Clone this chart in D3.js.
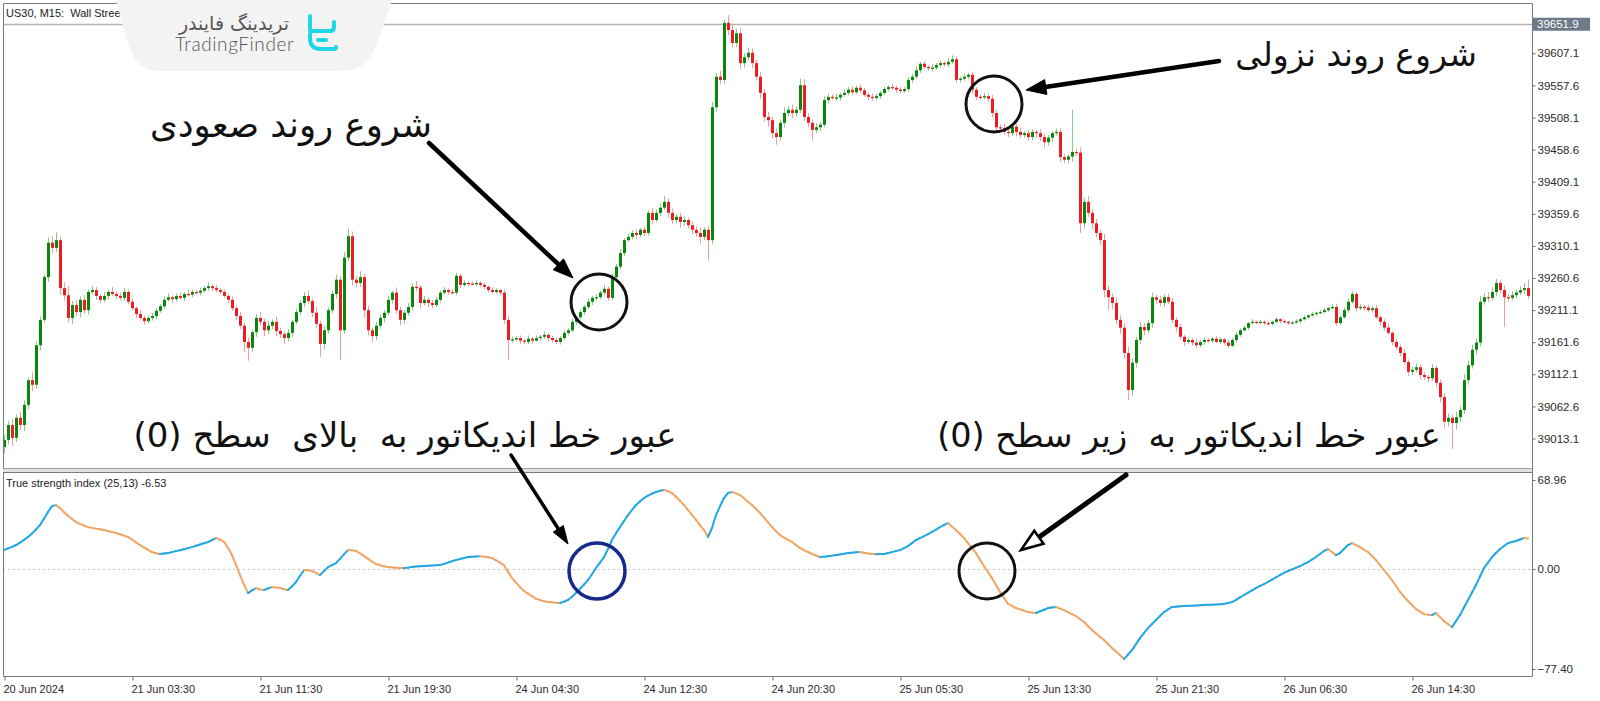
<!DOCTYPE html>
<html><head><meta charset="utf-8">
<script src="https://cdn.jsdelivr.net/npm/d3@7"></script>
<style>body{margin:0;background:#fff;overflow:hidden}svg{display:block}text{white-space:pre}</style>
</head><body>
<svg id="c" width="1600" height="701"></svg>
<script>
// ---------- DATA ----------
const firstOpen = 39000;
const closes = [
39011,39034,39014,39045,39034,39065,39103,39096,39157,39196,
39262,39315,39307,39319,39245,39234,39199,39219,39208,39227,
39211,39239,39242,39233,39227,39233,39239,39236,39233,39230,
39239,39224,39214,39205,39199,39194,39199,39202,39210,39217,
39227,39231,39228,39233,39230,39236,39235,39239,39238,39241,
39245,39248,39245,39242,39239,39233,39227,39214,39202,39187,
39162,39153,39177,39199,39193,39180,39187,39193,39179,39174,
39168,39176,39193,39208,39222,39233,39225,39207,39190,39159,
39180,39211,39236,39258,39180,39292,39325,39258,39253,39262,
39211,39180,39171,39187,39199,39207,39227,39238,39211,39196,
39207,39216,39247,39246,39222,39227,39222,39219,39227,39238,
39242,39239,39238,39264,39250,39253,39252,39251,39253,39250,
39247,39242,39239,39242,39238,39196,39165,39166,39168,39164,
39162,39167,39164,39168,39170,39173,39168,39165,39162,39168,
39176,39180,39193,39200,39208,39216,39224,39230,39231,39238,
39244,39230,39262,39278,39299,39319,39324,39330,39327,39335,
39330,39361,39350,39361,39369,39378,39361,39350,39355,39347,
39350,39342,39335,39330,39324,39335,39319,39524,39571,39566,
39654,39643,39623,39638,39592,39601,39608,39592,39571,39546,
39509,39504,39484,39478,39500,39515,39520,39515,39520,39558,
39509,39500,39489,39493,39497,39535,39540,39538,39539,39543,
39546,39551,39547,39554,39550,39543,39540,39538,39541,39546,
39552,39555,39554,39551,39549,39552,39566,39571,39581,39591,
39586,39584,39585,39589,39592,39590,39594,39598,39566,39568,
39571,39574,39551,39540,39539,39541,39537,39515,39493,39492,
39486,39484,39494,39486,39481,39484,39478,39486,39484,39478,
39470,39477,39484,39486,39447,39443,39448,39455,39454,39345,
39378,39361,39345,39330,39319,39242,39231,39222,39196,39184,
39145,39088,39130,39165,39185,39180,39191,39231,39227,39222,
39231,39224,39196,39185,39170,39162,39165,39161,39157,39162,
39165,39164,39167,39162,39166,39161,39156,39165,39173,39180,
39184,39191,39193,39192,39193,39191,39190,39193,39197,39194,
39193,39191,39192,39194,39197,39200,39203,39205,39207,39208,
39211,39214,39216,39191,39200,39211,39224,39236,39214,39216,
39215,39211,39214,39200,39193,39184,39176,39162,39154,39145,
39131,39116,39119,39123,39111,39108,39106,39122,39099,39077,
39039,39045,39037,39046,39057,39103,39126,39150,39161,39224,
39231,39230,39239,39253,39242,39231,39230,39234,39238,39242,
39245,39233];
const upWick = [
8,6,10,5,9,7,4,12,6,5, 4,8,10,12,5,9,14,6,8,5, 7,4,6,5,3,6,4,8,3,5, 6,4,5,3,6,4,3,5,4,3,
5,6,3,4,5,3,7,4,3,5, 4,6,3,5,3,4,3,5,4,6, 5,7,4,6,9,5,7,4,8,5, 4,6,3,5,4,6,8,4,9,5,
6,4,5,8,6,8,12,7,6,9, 5,7,4,6,5,4,6,3,8,5, 4,6,5,9,4,6,3,5,4,3, 5,3,4,4,3,4,2,3,4,2,
3,2,4,3,2,5,6,4,3,4, 3,5,2,4,3,5,2,3,4,3, 4,3,5,2,4,3,5,3,4,3, 6,4,5,4,6,3,5,4,6,3,
5,4,8,5,6,9,5,7,4,6, 5,4,6,5,8,4,6,8,6,9, 5,12,10,7,9,6,8,6,5,7, 6,8,5,7,5,9,6,8,5,10,
9,6,5,7,4,6,5,4,6,3, 5,4,6,3,5,4,3,5,4,3, 4,3,5,3,4,3,5,4,6,3, 4,3,5,3,4,3,5,6,4,3,
4,3,5,4,3,5,4,6,5,4, 6,3,5,4,6,3,5,4,3,6, 5,4,3,5,6,4,3,65,5,8, 6,9,5,7,6,10,8,6,9,7,
6,9,7,5,8,6,5,7,4,6, 4,5,6,4,5,3,4,3,5,3, 4,3,2,4,3,2,4,3,4,3, 3,2,4,2,3,2,3,2,3,2,
3,2,2,3,2,3,2,3,2,3, 3,2,4,5,3,4,5,4,3,4, 3,4,3,5,3,4,6,3,5,4, 6,4,5,6,4,5,3,6,4,5,
6,7,5,8,6,9,7,8,6,9, 6,8,7,6,5,7,5,6,4,6, 8,13];
const dnWick = [
10,7,12,6,8,9,7,10,6,8, 5,7,9,6,10,8,7,9,6,8, 5,7,4,6,5,4,6,3,5,4, 5,4,3,6,4,5,3,4,5,3,
4,3,5,4,3,5,3,4,3,4, 3,4,5,3,4,3,5,4,6,5, 15,20,6,7,5,9,6,5,8,6, 9,5,6,4,5,6,4,7,6,20,
8,6,5,7,46,6,5,9,7,6, 12,8,9,6,5,7,4,6,5,8, 6,4,5,6,8,4,6,5,3,4, 3,4,3,4,5,3,4,2,3,4,
3,4,2,3,4,6,31,4,3,5, 4,3,5,2,4,3,5,4,3,4, 3,4,3,5,3,4,3,5,4,3, 4,5,3,6,4,5,3,4,6,3,
5,4,6,3,5,4,8,6,5,9, 6,5,7,6,10,5,31,6,8,7, 6,8,7,6,9,7,5,8,6,9, 7,10,8,12,6,7,5,8,6,5,
6,7,16,5,6,4,5,3,4,5, 3,4,5,3,4,3,5,4,3,4, 3,4,3,5,4,3,4,5,3,4, 3,4,5,3,4,3,4,3,5,4,
3,4,6,5,4,3,5,7,6,4, 5,6,4,7,5,4,6,5,7,6, 8,5,6,4,7,5,6,8,5,15, 8,6,9,7,8,12,20,9,7,10,
8,16,9,7,6,8,5,7,6,5, 6,4,5,7,4,6,3,5,4,3, 4,3,4,2,3,4,3,2,4,3, 2,3,2,3,2,3,2,3,2,3,
2,3,2,2,3,2,3,2,3,2, 2,3,2,4,3,2,4,3,5,3, 4,3,4,3,5,4,3,6,4,5, 4,6,5,4,7,5,6,4,7,8,
9,7,40,10,8,6,7,5,8,6, 5,7,4,6,5,46,6,4,5,4, 6,5];
const tsi = [
14.7,16.0,17.2,18.6,20.5,22.6,24.8,27.5,30.6,34.0,
39.0,44.2,48.8,49.5,47.2,44.0,41.3,38.8,36.4,35.0,
33.7,32.5,31.9,31.3,30.8,30.2,29.5,28.7,27.9,26.9,
25.9,24.8,22.9,20.7,18.6,16.7,14.9,13.2,12.3,11.6,
12.0,12.5,13.1,13.9,14.6,15.4,16.2,17.0,18.0,19.0,
20.0,20.9,22.5,24.0,22.8,21.0,16.5,10.8,3.2,-4.6,
-12.0,-18.6,-16.5,-14.7,-15.8,-16.3,-15.0,-14.0,-14.2,-14.7,
-15.6,-16.3,-13.4,-10.0,-5.2,-0.8,-1.0,-1.5,-3.0,-4.6,
-1.6,1.5,3.0,4.6,7.9,11.4,14.7,14.5,14.0,12.2,
10.0,7.9,5.8,3.9,2.9,2.1,1.5,1.2,1.0,0.9,
0.8,1.1,1.5,1.9,2.1,2.3,2.5,2.7,2.9,3.1,
4.0,5.0,6.0,7.0,7.8,8.6,9.3,9.5,9.8,10.0,
9.6,9.1,8.5,6.8,5.0,3.0,-2.0,-7.0,-10.5,-14.0,
-17.0,-19.0,-21.0,-23.0,-24.0,-24.9,-25.6,-25.8,-26.1,-26.3,
-25.2,-24.0,-21.5,-18.6,-15.3,-12.0,-8.5,-4.0,0.8,5.0,
9.3,15.5,22.5,27.8,32.5,37.2,41.8,45.8,49.6,52.4,
55.0,56.8,58.4,59.7,60.6,61.2,60.2,58.9,56.0,52.8,
49.6,45.7,41.9,38.0,34.0,30.2,24.8,31.8,41.8,48.6,
55.0,58.9,59.7,58.6,57.3,54.8,52.2,49.6,46.5,43.4,
39.8,36.1,32.5,29.3,26.3,24.4,22.6,21.0,18.6,16.3,
14.7,13.2,11.8,10.5,9.3,9.6,10.0,10.4,10.8,11.3,
11.8,12.4,12.7,13.0,13.2,12.6,12.1,11.6,11.5,11.6,
11.6,12.4,13.1,13.9,14.7,16.2,17.8,20.1,22.5,24.0,
25.5,27.0,28.8,30.6,32.5,34.1,35.6,33.0,30.2,27.1,
24.0,20.1,16.2,12.4,7.3,2.3,-2.3,-7.0,-12.4,-17.8,
-22.4,-27.0,-28.6,-30.2,-31.2,-32.3,-33.3,-33.7,-34.0,-32.7,
-31.5,-30.2,-29.8,-29.4,-30.6,-31.8,-33.4,-34.9,-36.4,-38.7,
-41.0,-44.1,-47.3,-49.9,-52.4,-55.0,-58.1,-61.2,-63.9,-66.6,
-69.7,-66.2,-62.8,-58.1,-53.5,-49.6,-45.7,-42.6,-39.5,-36.4,
-33.3,-31.3,-29.4,-29.2,-28.9,-28.7,-28.5,-28.4,-28.2,-28.0,
-27.9,-27.7,-27.6,-27.4,-27.2,-27.1,-26.3,-25.6,-23.8,-21.9,
-20.1,-18.3,-16.5,-14.7,-13.1,-11.6,-10.0,-8.2,-6.4,-4.6,
-3.0,-1.5,-0.2,1.0,2.3,3.9,5.4,7.4,9.3,11.7,
14.0,15.5,13.2,10.8,12.4,15.5,18.6,20.1,18.6,17.0,
15.1,13.2,10.1,7.0,3.1,-0.8,-4.6,-8.5,-13.1,-17.8,
-21.3,-24.8,-27.9,-31.0,-33.0,-34.9,-35.3,-35.6,-34.0,-37.2,
-40.3,-42.6,-45.0,-40.3,-35.6,-29.8,-24.0,-18.2,-12.4,-5.8,
0.8,5.0,9.3,12.4,15.5,17.8,20.1,20.9,21.7,22.9,
24.0,23.6];
const priceTicks = [39013.1,39062.6,39112.1,39161.6,39211.1,39260.6,39310.1,39359.6,39409.1,39458.6,39508.1,39557.6,39607.1];
const tsiTicks = [68.96,0.00,-77.40];
const timeTickBars = [0,32,64,96,128,160,192,224,256,288,320,352];
const timeLabels = ["20 Jun 2024","21 Jun 03:30","21 Jun 11:30","21 Jun 19:30","24 Jun 04:30","24 Jun 12:30","24 Jun 20:30","25 Jun 05:30","25 Jun 13:30","25 Jun 21:30","26 Jun 06:30","26 Jun 14:30"];
const linePrice = 39651.9;
const tsiLabel = "True strength index (25,13) -6.53";
const symbolLabel = "US30, M15:  Wall Street 30";

// ---------- LAYOUT ----------
const L=3, R=1532, mT=3, mB=468, iT=472, iB=676;
const svg=d3.select('#c');
svg.append('rect').attr('width',1600).attr('height',701).attr('fill','#fff');
const x=d3.scaleLinear().domain([0,closes.length-1]).range([4,1528]);
const y=d3.scaleLinear().domain([39013.1,39607.1]).range([438.5,53.3]);
const yi=d3.scaleLinear().domain([-77.40,68.96]).range([669,480]);
const defs=svg.append('defs');
defs.append('clipPath').attr('id','cm').append('rect').attr('x',L).attr('y',mT).attr('width',R-L).attr('height',mB-mT);
defs.append('clipPath').attr('id','ci').append('rect').attr('x',L).attr('y',iT).attr('width',R-L).attr('height',iB-iT);

// price line
svg.append('line').attr('x1',L).attr('x2',R).attr('y1',Math.round(y(linePrice))+0.5).attr('y2',Math.round(y(linePrice))+0.5)
  .attr('stroke','#b4b4b4').attr('stroke-width',1.5);

// candles
const bars=closes.map((c,i)=>{const o=i?closes[i-1]:firstOpen;return {i,o,c,h:Math.max(o,c)+upWick[i],l:Math.min(o,c)-dnWick[i],up:c>=o};});
const gc=svg.append('g').attr('clip-path','url(#cm)');
gc.selectAll('line.wk').data(bars).join('line').attr('class','wk')
  .attr('x1',d=>Math.round(x(d.i))+0.5).attr('x2',d=>Math.round(x(d.i))+0.5)
  .attr('y1',d=>y(d.h)).attr('y2',d=>y(d.l))
  .attr('stroke',d=>d.up?'#86cc86':'#f39c9c').attr('stroke-width',1);
gc.selectAll('rect.bd').data(bars).join('rect').attr('class','bd')
  .attr('x',d=>Math.round(x(d.i))-1).attr('width',3)
  .attr('y',d=>y(Math.max(d.o,d.c))).attr('height',d=>Math.max(1.2,Math.abs(y(d.o)-y(d.c))))
  .attr('fill',d=>d.up?'#0c850c':'#ec1c24');

// TSI
const gi=svg.append('g').attr('clip-path','url(#ci)');
gi.append('line').attr('x1',L).attr('x2',R).attr('y1',Math.round(yi(0))+0.5).attr('y2',Math.round(yi(0))+0.5)
  .attr('stroke','#c4c4c4').attr('stroke-dasharray','2,3');
const segs=tsi.slice(1).map((v,k)=>({a:k,b:k+1,va:tsi[k],vb:v}));
gi.selectAll('line.ts').data(segs).join('line').attr('class','ts')
  .attr('x1',d=>x(d.a)).attr('y1',d=>yi(d.va)).attr('x2',d=>x(d.b)).attr('y2',d=>yi(d.vb))
  .attr('stroke',d=>d.vb>=d.va?'#21a7e2':'#efa566').attr('stroke-width',2).attr('stroke-linecap','round');

// frames
const fr=svg.append('g').attr('fill','none').attr('stroke','#8c8c8c').attr('stroke-width',1);
fr.append('path').attr('d',`M${L+0.5},${iB+0.5}V${mT+0.5}H${R+0.5}V${iB+0.5}H${L+0.5}`).attr('stroke','#7a7a7a');
fr.append('line').attr('x1',L).attr('x2',R).attr('y1',mB+0.5).attr('y2',mB+0.5).attr('stroke','#a0a0a0');
fr.append('rect').attr('x',L).attr('y',mB+1).attr('width',R-L).attr('height',iT-mB-1).attr('fill','#e2e2e2').attr('stroke','none');
fr.append('line').attr('x1',L).attr('x2',R).attr('y1',iT+0.5).attr('y2',iT+0.5).attr('stroke','#7a7a7a');

// axes
const axFont='"Liberation Sans", Arial, sans-serif';
const ay=svg.append('g').attr('transform',`translate(${R+0.5},0)`)
  .call(d3.axisRight(y).tickValues(priceTicks).tickSize(3).tickPadding(2).tickFormat(d3.format('.1f')));
const ai=svg.append('g').attr('transform',`translate(${R+0.5},0)`)
  .call(d3.axisRight(yi).tickValues(tsiTicks).tickSize(3).tickPadding(2).tickFormat(d3.format('.2f')));
const ax=svg.append('g').attr('transform',`translate(0,${iB+0.5})`)
  .call(d3.axisBottom(x).tickValues(timeTickBars).tickSize(4).tickFormat((d,i)=>timeLabels[i]));
[ay,ai,ax].forEach(a=>{a.select('.domain').remove();a.selectAll('line').attr('stroke','#6a6a6a');
  a.selectAll('text').attr('fill','#2a2a2a').style('font-family',axFont).style('font-size','11.5px');});
ax.selectAll('text').attr('text-anchor','start').attr('x',-1).attr('dy','0.9em').style('font-size','11px');
ax.selectAll('.tick line').attr('transform','translate(0.5,0)');

// price label box
const py=y(linePrice);
svg.append('rect').attr('x',R+1).attr('y',py-6.5).attr('width',57).attr('height',13).attr('fill','#6c7a89');
svg.append('text').attr('x',R+5).attr('y',py).attr('dy','0.35em').text(d3.format('.1f')(linePrice))
  .attr('fill','#fff').style('font-family',axFont).style('font-size','11.5px');

// labels
svg.append('text').attr('x',6).attr('y',17).text(symbolLabel).attr('fill','#222').style('font-family',axFont).style('font-size','11px');
svg.append('text').attr('x',6).attr('y',487).text(tsiLabel).attr('fill','#222').style('font-family',axFont).style('font-size','11px');

// watermark
svg.append('path').attr('d','M116,0 L392,0 C385,22 377,48 368,60 Q360,71 342,71 L160,71 Q143,71 135,59 C127,45 122,22 116,0 Z')
  .attr('fill','#f3f3f3');
svg.append('text').attr('x',234).attr('y',30).attr('text-anchor','middle')
  .text('تریدینگ فایندر').attr('fill','#555').style('font-family','"DejaVu Sans"').style('font-size','19px');
svg.append('text').attr('x',175).attr('y',51).text('TradingFinder').attr('fill','#555')
  .style('font-family','Lato, "Open Sans", sans-serif').style('font-weight','300').style('font-size','19px').attr('letter-spacing','0.6');
svg.append('path').attr('d','M310,16 V28 M310,34 V38 Q310,49 321,49 H334 Q336,49 336,47 M310,31 H330 Q334,31 334,27 V22 M318,40 H326')
  .attr('fill','none').attr('stroke','#1fd6e6').attr('stroke-width',4).attr('stroke-linecap','round').attr('stroke-linejoin','round');

// annotations
const fa='"DejaVu Sans", sans-serif';
function ptxt(t,cx,by,fs){svg.append('text').attr('x',cx).attr('y',by).attr('text-anchor','middle').attr('xml:space','preserve')
  .text(t).attr('fill','#111').style('font-family',fa).style('font-size',fs+'px');}
ptxt('شروع روند صعودی',291,137,35.5);
ptxt('شروع روند نزولی',1356,66,33);
ptxt('عبور خط اندیکاتور به  بالای  سطح (0)',405,447,34);
ptxt('عبور خط اندیکاتور به  زیر سطح (0)',1189,447,33.5);
function arrow(x1,y1,x2,y2,w,hl,hw,hollow){
  const a=Math.atan2(y2-y1,x2-x1),c=Math.cos(a),s=Math.sin(a);
  const bx=x2-hl*c,by=y2-hl*s;
  svg.append('line').attr('x1',x1).attr('y1',y1).attr('x2',hollow?bx:bx+2*c).attr('y2',hollow?by:by+2*s)
    .attr('stroke','#000').attr('stroke-width',w).attr('stroke-linecap','round');
  const p=[[x2,y2],[bx-s*hw/2,by+c*hw/2],[bx+s*hw/2,by-c*hw/2]];
  svg.append('polygon').attr('points',p.map(q=>q.join(',')).join(' '))
    .attr('fill',hollow?'#fff':'#000').attr('stroke','#000').attr('stroke-width',hollow?2.5:1).attr('stroke-linejoin','miter');
}
arrow(429,143,573,278,4.5,20,15,false);
arrow(1219,61,1026,90,4.5,20,15,false);
arrow(511,455,568,544,3.5,18,12,false);
arrow(1126,475,1021,550,5,22,16,true);
function circ(cx,cy,r,col,w){svg.append('circle').attr('cx',cx).attr('cy',cy).attr('r',r).attr('fill','none').attr('stroke',col).attr('stroke-width',w);}
circ(599,302,28,'#111',3);
circ(994,104,28,'#111',3);
circ(597,571,28,'#162a8c',3.5);
circ(987,571,28,'#111',3);
</script>
</body></html>
